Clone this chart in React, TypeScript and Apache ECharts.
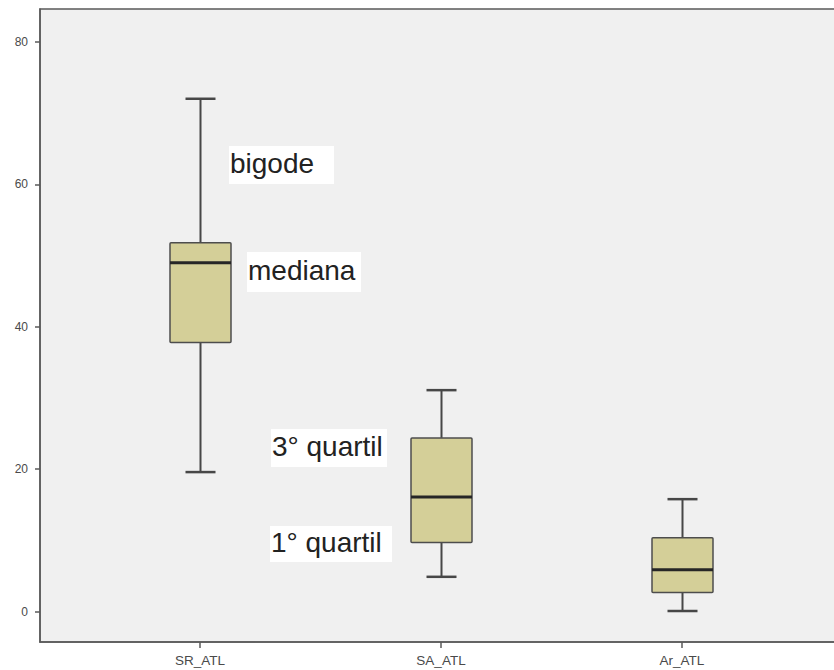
import React, { useEffect, useRef } from "react";
import * as echarts from "echarts";

const categories = ["SR_ATL", "SA_ATL", "Ar_ATL"];
const categoryPositions = [1, 2, 3];
const whiskerLow = [19.6, 4.9, 0.1];
const quartile1 = [37.8, 9.7, 2.7];
const medians = [49.0, 16.1, 5.9];
const quartile3 = [51.8, 24.4, 10.4];
const whiskerHigh = [72.0, 31.1, 15.8];
const yTicks = [0, 20, 40, 60, 80];

const annotations = [
  { text: "bigode", box: [229, 146, 105, 38] },
  { text: "mediana", box: [247, 252, 114, 40] },
  { text: "3° quartil", box: [271, 429, 116, 38] },
  { text: "1° quartil", box: [270, 526, 122, 36] },
];

export default function App() {
  const ref = useRef<HTMLDivElement>(null);
  useEffect(() => {
    if (!ref.current) return;
    const chart = echarts.init(ref.current, null, { renderer: "svg" });
    const data = categoryPositions.map((x, i) => [
      x,
      whiskerLow[i],
      quartile1[i],
      medians[i],
      quartile3[i],
      whiskerHigh[i],
    ]);
    const graphics: any[] = [];
    annotations.forEach((a) => {
      const [x, y, w, h] = a.box;
      graphics.push({
        type: "rect",
        shape: { x, y, width: w, height: h },
        style: { fill: "#ffffff" },
        z: 100,
      });
      graphics.push({
        type: "text",
        x: x + 1,
        y: y + h / 2 - 2,
        style: {
          text: a.text,
          fill: "#222222",
          font: '28px "Liberation Sans", Arial, sans-serif',
          verticalAlign: "middle",
          align: "left",
        },
        z: 101,
      });
    });
    chart.setOption({
      animation: false,
      backgroundColor: "#ffffff",
      grid: {
        left: 40,
        top: 9,
        bottom: 28,
        right: 0,
        show: true,
        backgroundColor: "#f0f0f0",
        borderColor: "#5a5a5a",
        borderWidth: 1.5,
      },
      xAxis: {
        type: "value",
        min: 0.336,
        max: 3.664,
        splitLine: { show: false },
        axisLine: { show: true, onZero: false, lineStyle: { color: "#5a5a5a", width: 1.5 } },
        axisTick: {
          show: true,
          length: 6,
          customValues: categoryPositions,
          lineStyle: { color: "#5a5a5a", width: 1.5 },
        },
        axisLabel: {
          customValues: categoryPositions,
          formatter: (v: number) => categories[Math.round(v) - 1] ?? "",
          fontFamily: '"Liberation Sans", Arial, sans-serif',
          fontSize: 13.5,
          color: "#4a4a4a",
          margin: 11,
        },
      },
      yAxis: {
        type: "value",
        min: -4.25,
        max: 84.6,
        splitLine: { show: false },
        axisLine: { show: true, onZero: false, lineStyle: { color: "#5a5a5a", width: 1.5 } },
        axisTick: {
          show: true,
          length: 5,
          customValues: yTicks,
          lineStyle: { color: "#5a5a5a", width: 1.5 },
        },
        axisLabel: {
          customValues: yTicks,
          fontFamily: '"Liberation Sans", Arial, sans-serif',
          fontSize: 12,
          color: "#4a4a4a",
          margin: 12,
        },
      },
      series: [
        {
          type: "custom",
          data,
          encode: { x: 0, y: [1, 2, 3, 4, 5] },
          clip: false,
          renderItem: (params: any, api: any) => {
            const x = api.value(0);
            const pMin = api.coord([x, api.value(1)]);
            const pQ1 = api.coord([x, api.value(2)]);
            const pMed = api.coord([x, api.value(3)]);
            const pQ3 = api.coord([x, api.value(4)]);
            const pMax = api.coord([x, api.value(5)]);
            const cx = Math.round(pMin[0]) + 0.5;
            const bw = 61;
            const cw = 30;
            const lineStyle = { stroke: "#474747", lineWidth: 2 };
            return {
              type: "group",
              children: [
                { type: "line", shape: { x1: cx, y1: pMax[1], x2: cx, y2: pQ3[1] }, style: lineStyle },
                { type: "line", shape: { x1: cx, y1: pQ1[1], x2: cx, y2: pMin[1] }, style: lineStyle },
                { type: "line", shape: { x1: cx - cw / 2, y1: pMax[1], x2: cx + cw / 2, y2: pMax[1] }, style: { stroke: "#474747", lineWidth: 2.5 } },
                { type: "line", shape: { x1: cx - cw / 2, y1: pMin[1], x2: cx + cw / 2, y2: pMin[1] }, style: { stroke: "#474747", lineWidth: 2.5 } },
                {
                  type: "rect",
                  shape: { x: cx - bw / 2, y: pQ3[1], width: bw, height: pQ1[1] - pQ3[1], r: 1 },
                  style: { fill: "#d4cf98", stroke: "#4d4d4d", lineWidth: 1.5 },
                },
                { type: "line", shape: { x1: cx - bw / 2, y1: pMed[1], x2: cx + bw / 2, y2: pMed[1] }, style: { stroke: "#262626", lineWidth: 3 } },
              ],
            };
          },
        },
      ],
      graphic: graphics,
    });
    return () => chart.dispose();
  }, []);
  return (
    <div
      style={{ position: "absolute", left: 0, top: 0, width: 834, height: 670, overflow: "hidden" }}
    >
      <div ref={ref} style={{ width: 842, height: 670 }} />
    </div>
  );
}
